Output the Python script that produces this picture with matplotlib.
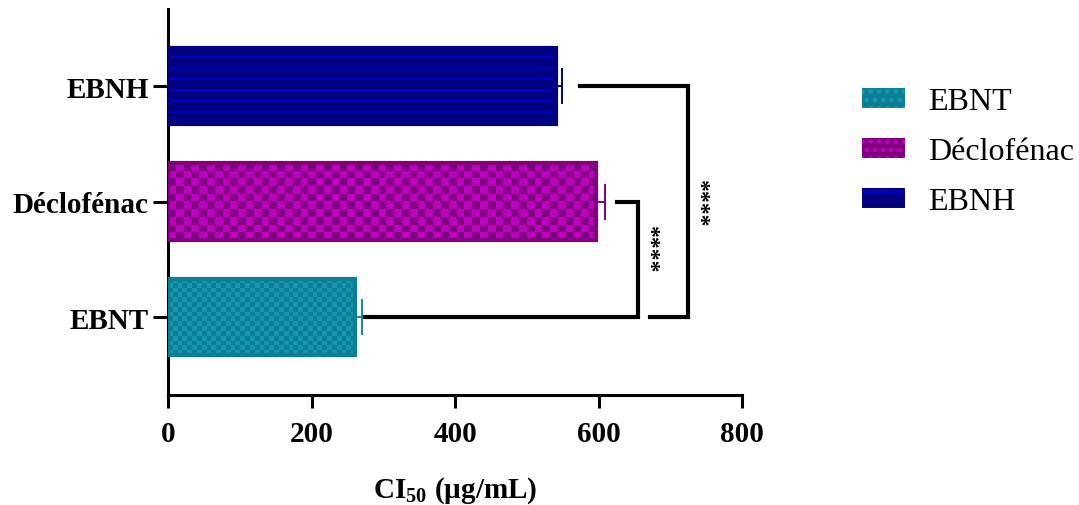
import numpy as np
import matplotlib
matplotlib.use('Agg')
import matplotlib.pyplot as plt
from matplotlib.patches import Patch, Rectangle

plt.rcParams['font.family'] = ['Liberation Serif', 'DejaVu Serif']
plt.rcParams['mathtext.fontset'] = 'custom'
plt.rcParams['mathtext.rm'] = 'Liberation Serif:bold'
plt.rcParams['mathtext.bf'] = 'Liberation Serif:bold'
plt.rcParams['hatch.linewidth'] = 2.0

# données : CI50 moyenne et écart-type
groupes = ['EBNT', 'Déclofénac', 'EBNH']
ci50 = [261, 597, 541]
ecart = [9, 12, 8]
couleur_fonce = ['#0B7F95', '#800080', '#000080']
couleur_clair = ['#1896B0', '#C000C0', '#0000C8']
couleur_barre_err = ['#0E8AA2', '#800080', '#000080']
motif = ['damier_fin', 'damier', 'lignes']

# comparaisons statistiques : (groupe a, groupe b, texte, x du coude)
comparaisons = [(1, 0, '****', 655), (2, 0, '****', 725)]

fig = plt.figure(figsize=(10.79, 5.06), dpi=100)
ax = fig.add_axes([0.1557, 0.2174, 0.532, 0.7626])

y = np.arange(len(groupes))
hauteur = 0.66

# barres d'erreur (côté droit seulement), sous les barres
for i in range(len(groupes)):
    ax.errorbar(ci50[i], y[i], xerr=[[0], [ecart[i]]], fmt='none',
                ecolor=couleur_barre_err[i], elinewidth=1.4, capsize=13,
                capthick=1.4, zorder=1)


def texture(nom, largeur):
    if nom == 'lignes':
        rangs = np.tile([0, 0, 0, 0, 1], 7)
        return np.repeat(rangs[:, None], 4, axis=1)
    n_cols = int(largeur / (7.7 if nom == 'damier' else 4.7))
    n_rows = 10 if nom == 'damier' else 16
    return np.add.outer(np.arange(n_rows), np.arange(n_cols)) % 2


for i, g in enumerate(groupes):
    x0, x1 = 0, ci50[i]
    y0, y1 = y[i] - hauteur / 2, y[i] + hauteur / 2
    tex = texture(motif[i], ci50[i] * 0.7175)
    cmap = matplotlib.colors.ListedColormap([couleur_fonce[i], couleur_clair[i]])
    ax.imshow(tex, cmap=cmap, extent=(x0, x1, y0, y1), aspect='auto',
              interpolation='nearest', zorder=2, vmin=0, vmax=1)
    ax.add_patch(Rectangle((x0, y0), x1 - x0, y1 - y0, facecolor='none',
                           edgecolor=couleur_fonce[i], linewidth=3, zorder=3))

# crochets de significativité
for a, b, txt, x_coude in comparaisons:
    x_haut = ci50[a] + ecart[a] + (17 if a == 1 else 25)
    x_bas = ci50[b] + ecart[b] + 5 if a == 1 else x_coude - 53
    ax.plot([x_haut, x_coude, x_coude, x_bas], [y[a], y[a], y[b], y[b]],
            color='black', linewidth=3, clip_on=False, zorder=4,
            solid_joinstyle='miter')
    ax.text(x_coude + 15, (y[a] + y[b]) / 2 + (0.1 if a == 1 else 0.0), txt,
            rotation=270, ha='center', va='center', fontsize=17,
            fontweight='bold')

ax.set_xlim(0, 800)
ax.set_ylim(-0.675, 2.667)
ax.set_xticks([0, 200, 400, 600, 800])
ax.set_yticks(y)
ax.set_yticklabels(groupes)
for lab in ax.get_xticklabels() + ax.get_yticklabels():
    lab.set_fontweight('bold')
    lab.set_fontsize(21)
ax.tick_params(axis='x', length=9.5, width=2.2, pad=8.5)
ax.tick_params(axis='y', length=10.5, width=2.2, pad=3.5)
for s in ['top', 'right']:
    ax.spines[s].set_visible(False)
for s in ['left', 'bottom']:
    ax.spines[s].set_linewidth(2.2)
ax.set_xlabel('CI$_{50}$ (µg/mL)', fontsize=21, fontweight='bold', labelpad=20)

poignees = [Patch(facecolor=couleur_fonce[0], edgecolor=couleur_clair[0], hatch='..', linewidth=0),
            Patch(facecolor=couleur_fonce[1], edgecolor=couleur_clair[1], hatch='..', linewidth=0),
            Patch(facecolor=couleur_fonce[2], edgecolor=couleur_clair[2], hatch='-', linewidth=0)]
fig.legend(poignees, groupes, loc='upper left', bbox_to_anchor=(0.787, 0.851),
           frameon=False, fontsize=23, handlelength=1.36, handleheight=0.57,
           handletextpad=0.7, labelspacing=0.66, borderaxespad=0)

fig.savefig('out.png', dpi=100)
